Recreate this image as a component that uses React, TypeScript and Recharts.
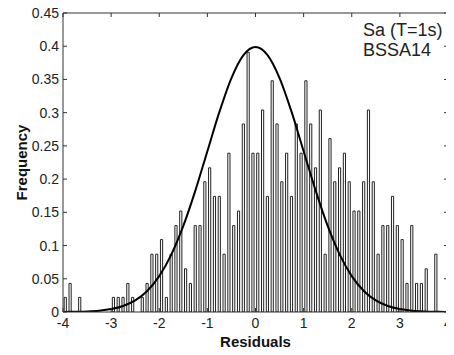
import { ComposedChart, Bar, Line, XAxis, YAxis, ReferenceLine } from 'recharts';

// histogram bin centres (bin width 0.1)
const binCenters = [
  -3.95, -3.85, -3.75, -3.65, -3.55, -3.45, -3.35, -3.25, -3.15, -3.05,
  -2.95, -2.85, -2.75, -2.65, -2.55, -2.45, -2.35, -2.25, -2.15, -2.05,
  -1.95, -1.85, -1.75, -1.65, -1.55, -1.45, -1.35, -1.25, -1.15, -1.05,
  -0.95, -0.85, -0.75, -0.65, -0.55, -0.45, -0.35, -0.25, -0.15, -0.05,
  0.05, 0.15, 0.25, 0.35, 0.45, 0.55, 0.65, 0.75, 0.85, 0.95,
  1.05, 1.15, 1.25, 1.35, 1.45, 1.55, 1.65, 1.75, 1.85, 1.95,
  2.05, 2.15, 2.25, 2.35, 2.45, 2.55, 2.65, 2.75, 2.85, 2.95,
  3.05, 3.15, 3.25, 3.35, 3.45, 3.55, 3.65, 3.75, 3.85, 3.95,
];

const frequencies = [
  0.022, 0.043, 0, 0.022, 0, 0, 0, 0, 0, 0,
  0.022, 0.022, 0.022, 0.043, 0.022, 0, 0.022, 0.043, 0.087, 0.087,
  0.109, 0.022, 0.087, 0.13, 0.152, 0.065, 0.043, 0.13, 0.13, 0.196,
  0.217, 0.174, 0.174, 0.087, 0.239, 0.13, 0.152, 0.283, 0.391, 0.239,
  0.239, 0.304, 0.174, 0.348, 0.283, 0.196, 0.239, 0.174, 0.283, 0.239,
  0.348, 0.283, 0.217, 0.304, 0.087, 0.261, 0.196, 0.217, 0.239, 0.196,
  0.152, 0.152, 0.196, 0.304, 0.196, 0.087, 0.13, 0.13, 0.174, 0.13,
  0.109, 0.043, 0.13, 0.043, 0.043, 0.065, 0, 0.087, 0, 0,
];

// normal curve
const curveX = [
  -4, -3.75, -3.5, -3.25, -3, -2.75, -2.5, -2.25, -2, -1.75, -1.5, -1.25, -1, -0.75, -0.5, -0.25,
  0, 0.25, 0.5, 0.75, 1, 1.25, 1.5, 1.75, 2, 2.25, 2.5, 2.75, 3, 3.25, 3.5, 3.75, 4,
];
const curveY = [
  0.0001, 0.0004, 0.0009, 0.002, 0.0044, 0.0091, 0.0175, 0.0317, 0.054, 0.0863, 0.1295, 0.1826, 0.242, 0.3011, 0.3521, 0.3867,
  0.3989, 0.3867, 0.3521, 0.3011, 0.242, 0.1826, 0.1295, 0.0863, 0.054, 0.0317, 0.0175, 0.0091, 0.0044, 0.002, 0.0009, 0.0004, 0.0001,
];

const xTicks = [-4, -3, -2, -1, 0, 1, 2, 3, 4];
const yTicks = [0, 0.05, 0.1, 0.15, 0.2, 0.25, 0.3, 0.35, 0.4, 0.45];

const histData = binCenters.map((x, i) => ({ x, freq: frequencies[i] }));
const curveData = curveX.map((x, i) => ({ x, y: curveY[i] }));

const font = '"Liberation Sans", Arial, sans-serif';
const tickStyle = { fill: '#222', fontSize: 14, fontFamily: font };
const frame = '#333';

// frame axes: tick marks only, no labels
const NoLabel = () => <g />;

export default function App() {
  return (
    <div style={{ position: 'relative', width: 446, height: 347 }}>
      <style>{'.recharts-surface { overflow: visible; }'}</style>
      <ComposedChart
        width={446}
        height={347}
        data={histData}
        margin={{ top: 4, right: 5, left: 0, bottom: 0 }}
      >
        <XAxis
          xAxisId="bottom"
          dataKey="x"
          type="number"
          domain={[-4, 4]}
          ticks={xTicks}
          interval={0}
          allowDataOverflow
          height={43}
          tick={tickStyle}
          tickSize={-4}
          tickMargin={10}
          stroke={frame}
          label={{
            value: 'Residuals',
            position: 'insideBottom',
            offset: 8,
            style: { fill: '#111', fontSize: 15, fontWeight: 'bold', fontFamily: font },
          }}
        />
        <XAxis
          xAxisId="top"
          orientation="top"
          dataKey="x"
          type="number"
          domain={[-4, 4]}
          ticks={xTicks}
          interval={0}
          allowDataOverflow
          height={1}
          tick={NoLabel}
          tickSize={-4}
          stroke={frame}
        />
        <YAxis
          yAxisId="left"
          type="number"
          domain={[0, 0.45]}
          ticks={yTicks}
          interval={0}
          allowDataOverflow
          width={55}
          tick={tickStyle}
          tickSize={-4}
          tickMargin={8}
          stroke={frame}
          label={{
            value: 'Frequency',
            angle: -90,
            position: 'insideLeft',
            offset: 14,
            style: { textAnchor: 'middle', fill: '#111', fontSize: 15, fontWeight: 'bold', fontFamily: font },
          }}
        />
        <YAxis
          yAxisId="right"
          orientation="right"
          type="number"
          domain={[0, 0.45]}
          ticks={yTicks}
          interval={0}
          allowDataOverflow
          width={1}
          tick={NoLabel}
          tickSize={-4}
          stroke={frame}
        />
        <Bar
          xAxisId="bottom"
          yAxisId="left"
          dataKey="freq"
          fill="#fff"
          stroke="#222"
          strokeWidth={1}
          barSize={3.6}
          isAnimationActive={false}
        />
        <Line
          xAxisId="bottom"
          yAxisId="left"
          data={curveData}
          dataKey="y"
          type="monotone"
          stroke="#000"
          strokeWidth={2}
          dot={false}
          isAnimationActive={false}
        />
        {/* invisible series tying the frame axes in */}
        <Line
          xAxisId="top"
          yAxisId="right"
          data={curveData}
          dataKey="y"
          stroke="none"
          strokeWidth={0}
          dot={false}
          activeDot={false}
          isAnimationActive={false}
        />
        <ReferenceLine xAxisId="bottom" yAxisId="left" x={4} stroke={frame} />
      </ComposedChart>
      <svg
        width={446}
        height={347}
        style={{ position: 'absolute', left: 0, top: 0, pointerEvents: 'none' }}
      >
        <text x={355} y={28} fontSize={18} fontFamily={font} fill="#222">Sa (T=1s)</text>
        <text x={355} y={48} fontSize={18} fontFamily={font} fill="#222">BSSA14</text>
      </svg>
    </div>
  );
}
